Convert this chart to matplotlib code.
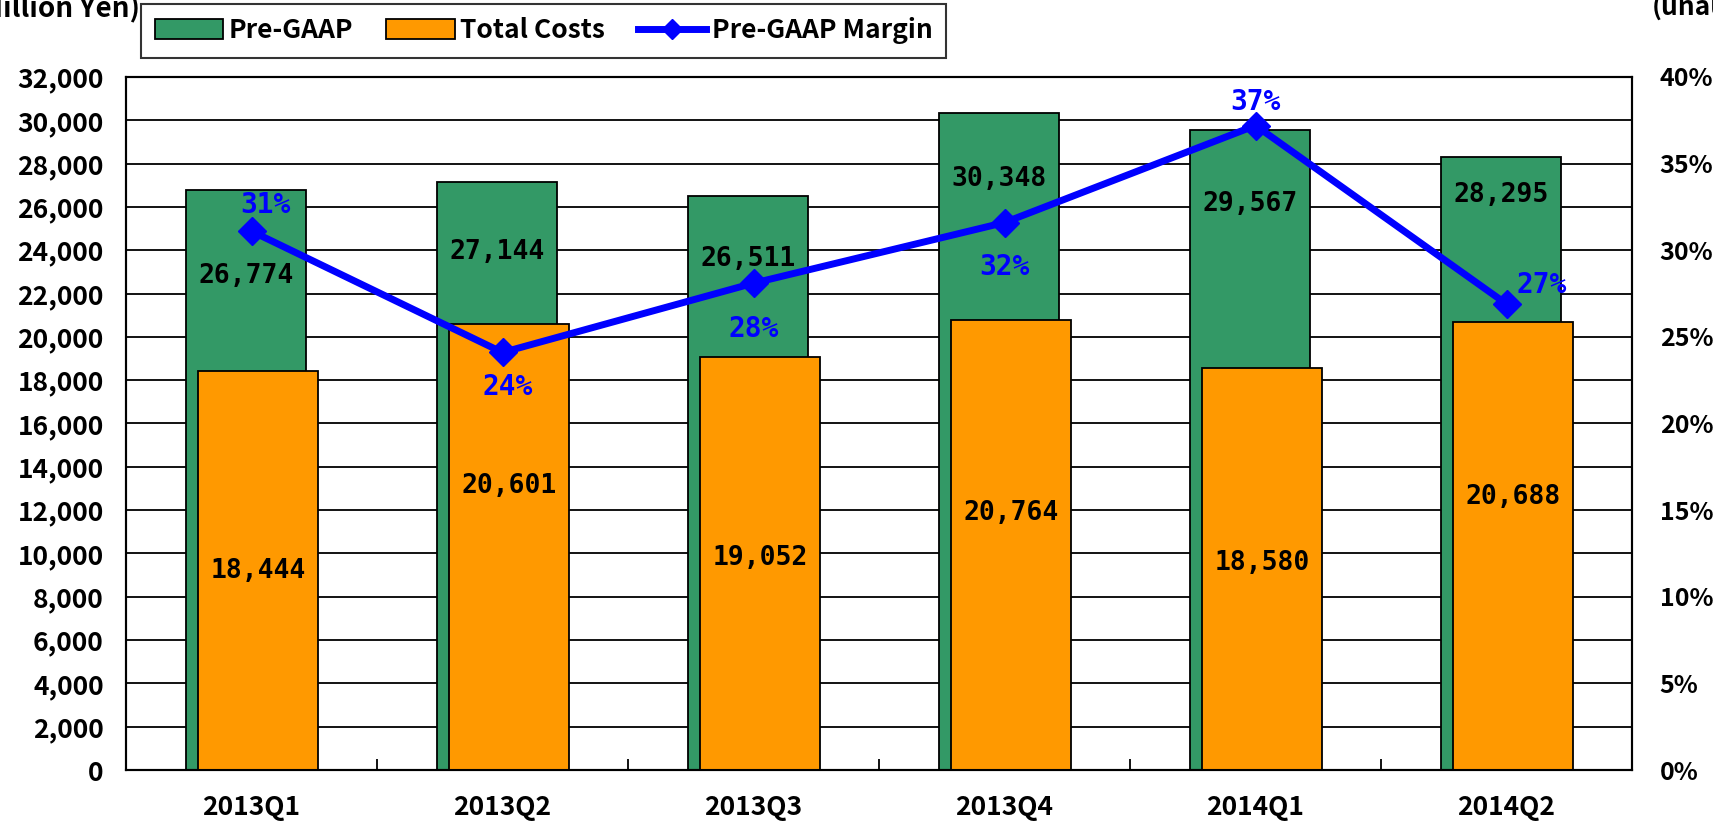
import matplotlib
matplotlib.use("Agg")
import matplotlib.pyplot as plt
import numpy as np
from matplotlib.patches import Patch
from matplotlib.lines import Line2D

categories = ["2013Q1", "2013Q2", "2013Q3", "2013Q4", "2014Q1", "2014Q2"]
pre_gaap = [26774, 27144, 26511, 30348, 29567, 28295]
total_costs = [18444, 20601, 19052, 20764, 18580, 20688]
margin_pct = [31.1, 24.1, 28.1, 31.6, 37.2, 26.9]
margin_labels = ["31%", "24%", "28%", "32%", "37%", "27%"]
left_ticks = list(range(0, 32001, 2000))
right_ticks = list(range(0, 41, 5))

# layout: where the value labels sit (in data units of the left axis)
pre_label_y = [22800, 23900, 23600, 27300, 26150, 26550]
cost_label_y = [9200, 13100, 9800, 11850, 9550, 12600]
# label offsets (points) for margin labels
margin_offsets = [(10, 19), (4, -25), (0, -33), (0, -32), (0, 17), (25, 14)]

GREEN = "#339966"
ORANGE = "#FF9900"
BLUE = "#0000FF"
FONT = ["Noto Sans CJK JP", "DejaVu Sans"]
plt.rcParams['font.family'] = FONT
plt.rcParams['font.weight'] = 'bold'

W, H = 1713, 822
fig = plt.figure(figsize=(W / 100, H / 100), dpi=100)
l, r, t, b = 126, 1632, 77, 770
ax = fig.add_axes([l / W, 1 - b / H, (r - l) / W, (b - t) / H])

x = np.arange(len(categories))
bw = 0.478
ax.set_axisbelow(True)
ax.yaxis.grid(True, color="black", linewidth=1.3)
ax.bar(x - 0.023, pre_gaap, width=bw, color=GREEN, edgecolor="black", linewidth=1.3, zorder=2)
ax.bar(x + 0.025, total_costs, width=bw, color=ORANGE, edgecolor="black", linewidth=1.3, zorder=3)

for i in range(len(categories)):
    ax.text(x[i] - 0.023, pre_label_y[i], f"{pre_gaap[i]:,}",
            ha="center", va="center", fontsize=19, family="DejaVu Sans Mono",
            fontweight="bold", zorder=5)
    ax.text(x[i] + 0.025, cost_label_y[i], f"{total_costs[i]:,}",
            ha="center", va="center", fontsize=19, family="DejaVu Sans Mono",
            fontweight="bold", zorder=5)

ax.set_xlim(-0.5, len(categories) - 0.5)
ax.set_ylim(0, 32000)
ax.set_yticks(left_ticks)
ax.set_yticklabels([f"{v:,}" for v in left_ticks], fontsize=19)
ax.set_xticks(x)
ax.set_xticklabels(categories, fontsize=19)
ax.tick_params(axis="y", length=0, pad=16)
ax.tick_params(axis="x", length=0, pad=17)
ax.set_xticks(np.arange(0.5, len(categories) - 0.5, 1), minor=True)
ax.tick_params(axis="x", which="minor", direction="in", length=8, width=1.3, color="black")
for s in ax.spines.values():
    s.set_linewidth(1.5)

ax2 = ax.twinx()
ax2.set_ylim(0, 40)
ax2.set_yticks(right_ticks)
ax2.set_yticklabels([f"{v}%" for v in right_ticks], fontsize=18)
ax2.tick_params(axis="y", length=0, pad=20)
ax2.plot(x, margin_pct, color=BLUE, linewidth=5, marker="D", markersize=14, zorder=6)
for i in range(len(categories)):
    ax2.annotate(margin_labels[i], (x[i], margin_pct[i]), xytext=margin_offsets[i],
                 textcoords="offset points", ha="center", va="center",
                 color=BLUE, fontsize=20, family="DejaVu Sans Mono", fontweight="bold", zorder=7)
for s in ax2.spines.values():
    s.set_linewidth(1.5)

handles = [Patch(facecolor=GREEN, edgecolor="black", linewidth=1.3),
           Patch(facecolor=ORANGE, edgecolor="black", linewidth=1.3),
           Line2D([0], [0], color=BLUE, linewidth=5, marker="D", markersize=10)]
leg = fig.legend(handles, ["Pre-GAAP", "Total Costs", "Pre-GAAP Margin"],
                 loc="center", bbox_to_anchor=((145 + 942) / 2 / W, 1 - 31 / H),
                 ncol=3, fontsize=19, frameon=True, fancybox=False,
                 handlelength=2.6, handleheight=0.8, columnspacing=1.25, handletextpad=0.2,
                 borderpad=0.5, borderaxespad=0)
leg.get_frame().set_edgecolor("black")
leg.get_frame().set_linewidth(1.5)

fig.text(140 / W, 1 - 16 / H, "(Million Yen)", ha="right", va="baseline", fontsize=20)
fig.text(1652 / W, 1 - 16 / H, "(unaudited)", ha="left", va="baseline", fontsize=19)

fig.savefig("out.png", dpi=100)
